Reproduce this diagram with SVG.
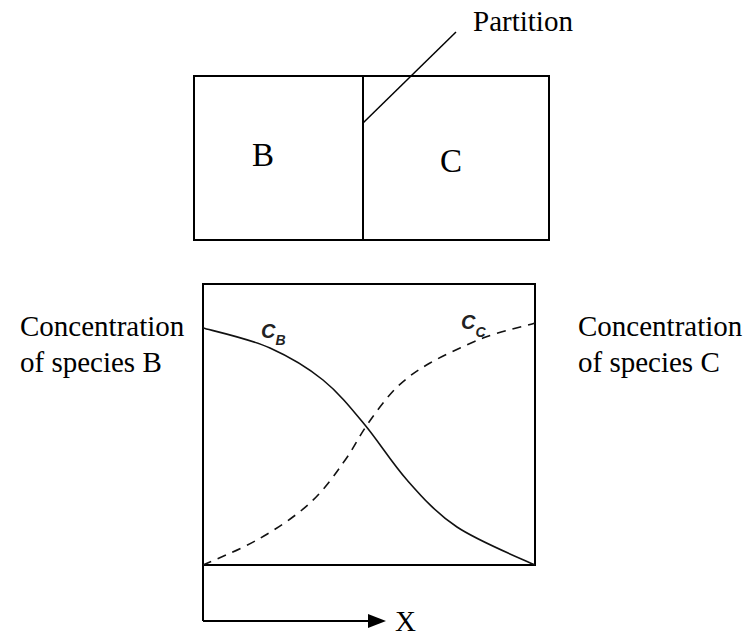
<svg xmlns="http://www.w3.org/2000/svg" width="754" height="636" viewBox="0 0 754 636">
<defs>
<style>
.serif{font-family:'Liberation Serif','Times New Roman',serif;fill:#000}
.sans{font-family:'Liberation Sans',Arial,sans-serif;font-style:italic;font-weight:bold;fill:#222}
.ln{stroke:#000;stroke-width:2;fill:none}
.crv{stroke:#111;stroke-width:1.6;fill:none}
</style>
</defs>
<rect width="754" height="636" fill="#fff"/>
<g id="box-top">
<rect class="ln" x="194" y="76" width="355" height="164"/>
</g>
<g id="partition">
<line class="ln" x1="363" y1="76" x2="363" y2="240"/>
<line x1="363" y1="123" x2="456" y2="32" stroke="#000" stroke-width="1.5"/>
<text class="serif" font-family="Liberation Serif, serif" x="473" y="31" font-size="29">Partition</text>
</g>
<g id="label-B"><text class="serif" font-family="Liberation Serif, serif" x="252" y="166" font-size="33">B</text></g>
<g id="label-C"><text class="serif" font-family="Liberation Serif, serif" x="440" y="172" font-size="33">C</text></g>
<g id="plot">
<rect class="ln" x="203" y="284" width="332" height="281"/>
<line class="ln" x1="203" y1="565" x2="203" y2="621"/>
<line class="ln" x1="203" y1="621" x2="370" y2="621"/>
<polygon points="368,614 386,621 368,628" fill="#000"/>
<text class="serif" font-family="Liberation Serif, serif" x="395" y="631" font-size="29">X</text>
</g>
<g id="curves">
<path class="crv" d="M203,328 C214,331 250,339 270,348 C290,357 307,367 323,380 C339,393 351,408 365,425 C379,442 392,463 407,480 C422,497 436,513 457,527 C478,541 522,559 535,565"/>
<path class="crv" stroke-dasharray="9,7" d="M203,565 C212,561 239,550 257,540 C275,530 296,516 310,503 C324,490 334,476 343,463 C353,450 358,438 367,425 C376,412 387,397 397,387 C408,377 416,371 430,363 C444,355 466,345 483,338 C501,331 526,326 535,323"/>
</g>
<g id="cb-label"><text class="sans" x="261" y="338" font-size="20">C<tspan font-size="14" dy="7">B</tspan></text></g>
<g id="cc-label"><text class="sans" x="461" y="329" font-size="20">C<tspan font-size="14" dy="8">C</tspan></text></g>
<g id="left-label">
<text class="serif" font-family="Liberation Serif, serif" x="20" y="336" font-size="29">Concentration</text>
<text class="serif" font-family="Liberation Serif, serif" x="20" y="372" font-size="29">of species B</text>
</g>
<g id="right-label">
<text class="serif" font-family="Liberation Serif, serif" x="578" y="336" font-size="29">Concentration</text>
<text class="serif" font-family="Liberation Serif, serif" x="578" y="372" font-size="29">of species  C</text>
</g>
</svg>
